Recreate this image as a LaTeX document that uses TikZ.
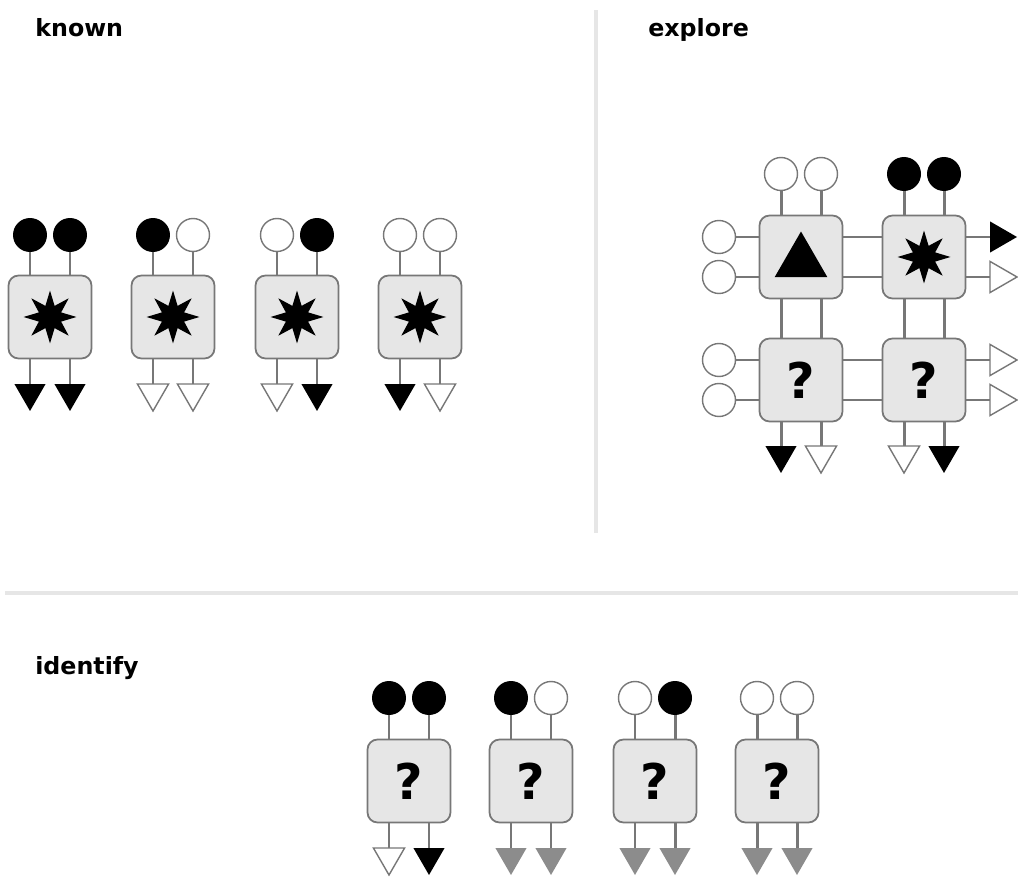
\documentclass[tikz,border=0pt]{standalone}
\usepackage{fontspec}
\setmainfont{DejaVu Sans}
\usetikzlibrary{shapes.geometric}
\definecolor{wiregray}{HTML}{777777}
\definecolor{boxgray}{HTML}{E6E6E6}
\definecolor{rulegray}{HTML}{E6E6E6}
\definecolor{fadegray}{HTML}{8C8C8C}

\begin{document}
\begin{tikzpicture}[x=0.02cm, y=-0.02cm,
    unit/.style={draw=wiregray, fill=boxgray, line width=1pt, rounded corners=0.2cm, minimum size=1.66cm, inner sep=0, font=\bfseries\fontsize{28}{30}\selectfont},
    wire/.style={draw=wiregray, line width=1.7pt},
    inon/.style={circle, fill=black, minimum size=0.68cm, inner sep=0},
    inoff/.style={circle, draw=wiregray, fill=white, line width=0.8pt, minimum size=0.66cm, inner sep=0},
    tri/.style={regular polygon, regular polygon sides=3, minimum size=0.72cm, inner sep=0, outer sep=0, line width=0.8pt},
    outon/.style={tri, fill=black, shape border rotate=180, anchor=north},
    outoff/.style={tri, draw=wiregray, fill=white, shape border rotate=180, anchor=north},
    outgray/.style={tri, fill=fadegray, shape border rotate=180, anchor=north},
    burst/.style={star, star points=8, star point ratio=2.2, fill=black, minimum size=1.06cm, inner sep=0},
    head/.style={anchor=base west, font=\bfseries\fontsize{13.5}{16}\selectfont, inner sep=0}]
        \useasboundingbox (0,0) rectangle (1018,878);
        % dividers
        \draw[rulegray, line width=2.3pt] (596,10) -- (596,533);
        \draw[rulegray, line width=2.3pt] (5,593) -- (1018,593);
        \node[head] (known) at (35,37) {known};
        \node[head] (explore) at (648,37) {explore};
        \node[head] (identify) at (35,674) {identify};
        % known
        \foreach \i/\x/\a/\b/\c/\d in {1/50/inon/inon/outon/outon, 2/173/inon/inoff/outoff/outoff,
                                       3/297/inoff/inon/outoff/outon, 4/420/inoff/inoff/outon/outoff}{
          \node[unit] (k\i) at (\x,317) {};
          \node[burst] (ks\i) at (k\i) {};
          \node[\a] (ka\i) at (\x-20,235) {};
          \node[\b] (kb\i) at (\x+20,235) {};
          \node[\c] (kc\i) at (\x-20,384) {};
          \node[\d] (kd\i) at (\x+20,384) {};
          \draw[wire] (ka\i) -- (ka\i |- k\i.north);
          \draw[wire] (kb\i) -- (kb\i |- k\i.north);
          \draw[wire] (kc\i |- k\i.south) -- (kc\i.north);
          \draw[wire] (kd\i |- k\i.south) -- (kd\i.north);
        }
        % explore
        \node[unit] (ea) at (801,257) {};
        \node[tri, fill=black, minimum size=1.22cm] (eat) at (801,262) {};
        \node[unit] (eb) at (924,257) {};
        \node[burst] (ebs) at (eb) {};
        \node[unit] (ec) at (801,380) {?};
        \node[unit] (ed) at (924,380) {?};
        \node[inoff] (ea1) at (781,174) {};
        \node[inoff] (ea2) at (821,174) {};
        \node[inon] (eb1) at (904,174) {};
        \node[inon] (eb2) at (944,174) {};
        \node[inoff] (ea3) at (719,237) {};
        \node[inoff] (ea4) at (719,277) {};
        \node[inoff] (ec3) at (719,360) {};
        \node[inoff] (ec4) at (719,400) {};
        \node[outon, shape border rotate=-90, anchor=west] (eb3) at (990,237) {};
        \node[outoff, shape border rotate=-90, anchor=west] (eb4) at (990,277) {};
        \node[outoff, shape border rotate=-90, anchor=west] (ed3) at (990,360) {};
        \node[outoff, shape border rotate=-90, anchor=west] (ed4) at (990,400) {};
        \node[outon] (ec1) at (781,446) {};
        \node[outoff] (ec2) at (821,446) {};
        \node[outoff] (ed1) at (904,446) {};
        \node[outon] (ed2) at (944,446) {};
        \draw[wire] (ea1) -- (ea1 |- ea.north);
        \draw[wire] (ea2) -- (ea2 |- ea.north);
        \draw[wire] (eb1) -- (eb1 |- eb.north);
        \draw[wire] (eb2) -- (eb2 |- eb.north);
        \draw[wire] (ea3) -- (ea3 -| ea.west);
        \draw[wire] (ea4) -- (ea4 -| ea.west);
        \draw[wire] (ec3) -- (ec3 -| ec.west);
        \draw[wire] (ec4) -- (ec4 -| ec.west);
        \draw[wire] (ea.east |- ea3) -- (eb.west |- ea3);
        \draw[wire] (ea.east |- ea4) -- (eb.west |- ea4);
        \draw[wire] (ec.east |- ec3) -- (ed.west |- ec3);
        \draw[wire] (ec.east |- ec4) -- (ed.west |- ec4);
        \draw[wire] (eb.east |- eb3) -- (eb3.west);
        \draw[wire] (eb.east |- eb4) -- (eb4.west);
        \draw[wire] (ed.east |- ed3) -- (ed3.west);
        \draw[wire] (ed.east |- ed4) -- (ed4.west);
        \draw[wire] (ea1 |- ea.south) -- (ea1 |- ec.north);
        \draw[wire] (ea2 |- ea.south) -- (ea2 |- ec.north);
        \draw[wire] (eb1 |- eb.south) -- (eb1 |- ed.north);
        \draw[wire] (eb2 |- eb.south) -- (eb2 |- ed.north);
        \draw[wire] (ec1 |- ec.south) -- (ec1.north);
        \draw[wire] (ec2 |- ec.south) -- (ec2.north);
        \draw[wire] (ed1 |- ed.south) -- (ed1.north);
        \draw[wire] (ed2 |- ed.south) -- (ed2.north);
        % identify
        \foreach \i/\x/\a/\b/\c/\d in {1/409/inon/inon/outoff/outon, 2/531/inon/inoff/outgray/outgray,
                                       3/655/inoff/inon/outgray/outgray, 4/777/inoff/inoff/outgray/outgray}{
          \node[unit] (q\i) at (\x,781) {?};
          \node[\a] (qa\i) at (\x-20,698) {};
          \node[\b] (qb\i) at (\x+20,698) {};
          \node[\c] (qc\i) at (\x-20,848) {};
          \node[\d] (qd\i) at (\x+20,848) {};
          \draw[wire] (qa\i) -- (qa\i |- q\i.north);
          \draw[wire] (qb\i) -- (qb\i |- q\i.north);
          \draw[wire] (qc\i |- q\i.south) -- (qc\i.north);
          \draw[wire] (qd\i |- q\i.south) -- (qd\i.north);
        }
      \end{tikzpicture}
\end{document}
